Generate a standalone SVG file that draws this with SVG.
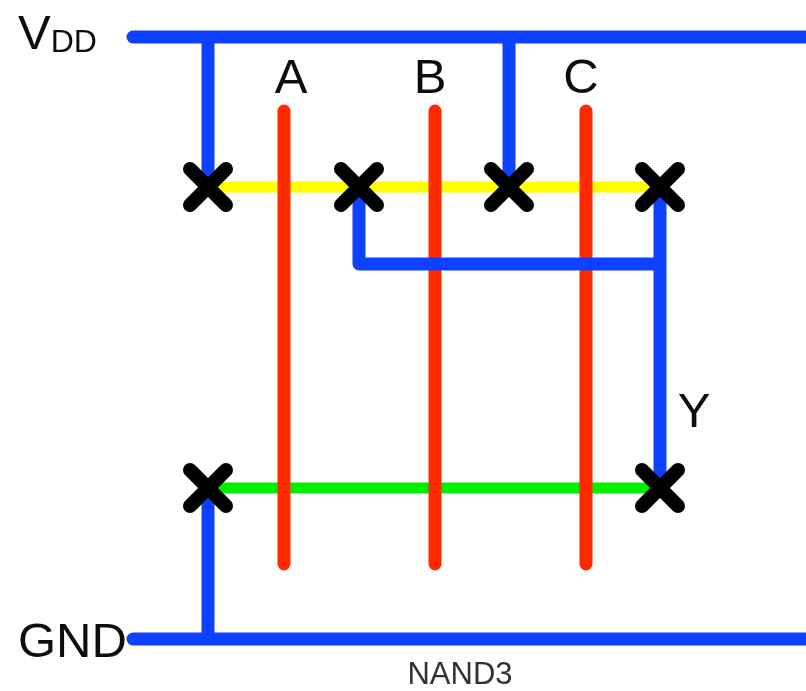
<svg xmlns="http://www.w3.org/2000/svg" width="806" height="691" viewBox="0 0 806 691">
<style>
text{font-family:"Liberation Sans",Arial,sans-serif;fill:#111}
.l{font-size:49px}
.w{fill:none;stroke-width:13}
.blue{stroke:#1040ff;stroke-linecap:round;stroke-linejoin:round}
.red{stroke:#ff2a00;stroke-linecap:round}
.yel{stroke:#ffff00;stroke-width:11}
.grn{stroke:#00f000;stroke-width:11}
.x{fill:none;stroke:#000;stroke-width:14;stroke-linecap:round}
</style>
<defs><filter id="soft" x="0" y="0" width="100%" height="100%"><feGaussianBlur stdDeviation="0.7"/></filter></defs>
<rect width="806" height="691" fill="#fff"/>
<g filter="url(#soft)">
<g id="connectors">
<path class="w yel" d="M208 187H660"/>
<path class="w grn" d="M208 488H660"/>
<path class="w red" d="M284 111V564M435 111V564M586 111V564"/>
<path class="w blue" d="M133 37H806M208 37V187M509 37V187M359 187V264H660M660 187V488M133 639H806M208 488V639"/>
</g>
<g id="contacts">
<path id="c1" class="x" d="M190 169L226 205M226 169L190 205"/>
<path id="c2" class="x" d="M341 169L377 205M377 169L341 205"/>
<path id="c3" class="x" d="M491 169L527 205M527 169L491 205"/>
<path id="c4" class="x" d="M642 169L678 205M678 169L642 205"/>
<path id="c5" class="x" d="M190 470L226 506M226 470L190 506"/>
<path id="c6" class="x" d="M642 470L678 506M678 470L642 506"/>
</g>
<g id="labels">
<text class="l" x="18" y="49">V<tspan font-size="32" dy="3">DD</tspan></text>
<text class="l" x="291" y="93" text-anchor="middle">A</text>
<text class="l" x="430" y="93" text-anchor="middle">B</text>
<text class="l" x="581" y="93" text-anchor="middle">C</text>
<text class="l" x="694" y="427" text-anchor="middle">Y</text>
<text class="l" x="18" y="657">GND</text>
<text x="460" y="684" font-size="31" text-anchor="middle" style="fill:#333">NAND3</text>
</g>
</g>
</svg>
